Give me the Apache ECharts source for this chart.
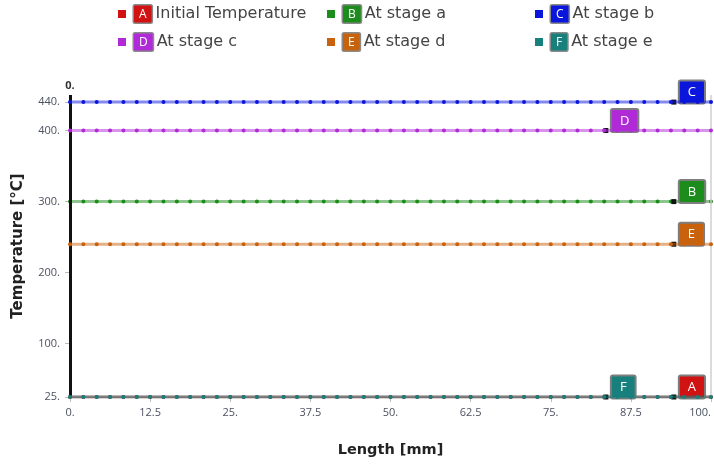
<!DOCTYPE html>
<html>
<head>
<meta charset="utf-8">
<script src="https://cdn.jsdelivr.net/npm/echarts@6/dist/echarts.min.js"></script>
<style>
  html, body { margin: 0; padding: 0; background: #fff; }
  #chart { width: 714px; height: 464px; }
</style>
</head>
<body>
<div id="chart"></div>
<script>
// Sample positions along the part (mm)
const lengthMm = [0, 2.083, 4.167, 6.25, 8.333, 10.417, 12.5, 14.583, 16.667, 18.75, 20.833, 22.917,
  25, 27.083, 29.167, 31.25, 33.333, 35.417, 37.5, 39.583, 41.667, 43.75, 45.833, 47.917,
  50, 52.083, 54.167, 56.25, 58.333, 60.417, 62.5, 64.583, 66.667, 68.75, 70.833, 72.917,
  75, 77.083, 79.167, 81.25, 83.333, 85.417, 87.5, 89.583, 91.667, 93.75, 95.833, 97.917, 100];

// One uniform temperature profile per stage
const seriesNames = ['Initial Temperature', 'At stage a', 'At stage b', 'At stage c', 'At stage d', 'At stage e'];
const seriesTags = ['A', 'B', 'C', 'D', 'E', 'F'];
const temperatureC = [25, 300, 440, 400, 240, 25];
const tagLengthMm = [94.2, 94.2, 94.2, 83.6, 94.2, 83.6];

const xTicks = [0, 12.5, 25, 37.5, 50, 62.5, 75, 87.5, 100];
const yTicks = [25, 100, 200, 300, 400, 440];
const yMax = 450;

const colors = ['#d01212', '#1c8c1c', '#0b16dc', '#b12ad8', '#c9620d', '#177f7c'];
const FONT = '"Open Sans", "Noto Sans", sans-serif';
const WIDE = '"DejaVu Sans", sans-serif';

const legendSlots = [
  { left: 118, top: 4 }, { left: 327, top: 4 }, { left: 535, top: 4 },
  { left: 118, top: 32 }, { left: 327, top: 32 }, { left: 535, top: 32 }
];

const legendRich = {
  txt: { color: '#444', fontSize: 16, fontFamily: WIDE, padding: [0, 0, 0, 4] }
};
seriesTags.forEach((t, i) => {
  legendRich['tag' + t] = {
    backgroundColor: colors[i], borderColor: '#8a8a8a', borderWidth: 1.5, borderRadius: 1,
    color: '#fff', fontSize: 12, fontFamily: FONT, padding: [3, 5, 2, 5], lineHeight: 14
  };
});

const legends = seriesNames.map((name, i) => ({
  data: [name],
  left: legendSlots[i].left,
  top: legendSlots[i].top,
  padding: 0,
  icon: 'rect',
  itemWidth: 8,
  itemHeight: 8,
  selectedMode: false,
  formatter: n => '{tag' + seriesTags[i] + '|' + seriesTags[i] + '}{txt|' + n + '}',
  textStyle: { rich: legendRich, padding: [0, 0, 0, 3] }
}));

const series = seriesNames.map((name, i) => ({
  name: name,
  type: 'line',
  data: lengthMm.map(x => [x, temperatureC[i]]),
  symbol: 'circle',
  symbolSize: 4,
  showSymbol: true,
  itemStyle: { color: colors[i] },
  lineStyle: { color: colors[i], width: 3, opacity: 0.5 },
  z: 3 + i,
  markPoint: {
    symbol: 'rect',
    symbolSize: 5,
    itemStyle: { color: '#111' },
    data: [{ coord: [tagLengthMm[i], temperatureC[i]] }],
    label: {
      show: true,
      formatter: seriesTags[i],
      position: [8.5, -18],
      color: '#fff',
      fontSize: 13,
      fontFamily: FONT,
      backgroundColor: colors[i],
      borderColor: '#7e7e7e',
      borderWidth: 2,
      borderRadius: 1,
      padding: [4, 8, 3, 8],
      lineHeight: 14
    }
  }
}));

// Vertical reference at Length = 0 and the right frame edge
series[0].markLine = {
  symbol: 'none',
  silent: true,
  animation: false,
  data: [
    [{ coord: [0, yTicks[0]], lineStyle: { color: '#111', width: 3, type: 'solid' },
       label: { show: true, position: 'end', formatter: '0.', color: '#333', fontSize: 11, fontWeight: 'bold', fontFamily: FONT, distance: 4 } },
     { coord: [0, yMax] }],
    [{ coord: [100, yTicks[0]], lineStyle: { color: '#cfcfcf', width: 1.5, type: 'solid' }, label: { show: false } },
     { coord: [100, yMax] }]
  ]
};

const chart = echarts.init(document.getElementById('chart'), null, { renderer: 'canvas' });
chart.setOption({
  animation: false,
  backgroundColor: '#fff',
  legend: legends,
  grid: { left: 70, right: 2, top: 95, bottom: 67, containLabel: false },
  xAxis: {
    type: 'value',
    min: xTicks[0], max: xTicks[xTicks.length - 1], interval: 12.5,
    name: 'Length [mm]',
    nameLocation: 'middle',
    nameGap: 46,
    nameTextStyle: { fontSize: 14.5, fontWeight: 'bold', color: '#222', fontFamily: WIDE },
    axisLine: { show: true, lineStyle: { color: '#bbb' } },
    axisTick: { show: true, length: 5, lineStyle: { color: '#bbb' } },
    splitLine: { show: false },
    axisLabel: {
      fontSize: 11, color: '#4c5160', fontFamily: FONT, margin: 10,
      alignMaxLabel: 'right',
      formatter: v => Number.isInteger(v) ? v + '.' : String(v)
    }
  },
  yAxis: {
    type: 'value',
    min: yTicks[0], max: yMax,
    name: 'Temperature [°C]',
    nameLocation: 'middle',
    nameGap: 44,
    nameTextStyle: { fontSize: 15, fontWeight: 'bold', color: '#222', fontFamily: WIDE },
    axisLine: { show: false },
    axisTick: { show: true, length: 5, customValues: yTicks, lineStyle: { color: '#bbb' } },
    splitLine: { show: false },
    axisLabel: {
      fontSize: 11, color: '#4c5160', fontFamily: FONT, margin: 10,
      customValues: yTicks,
      formatter: v => v + '.'
    }
  },
  series: series
});
</script>
</body>
</html>
